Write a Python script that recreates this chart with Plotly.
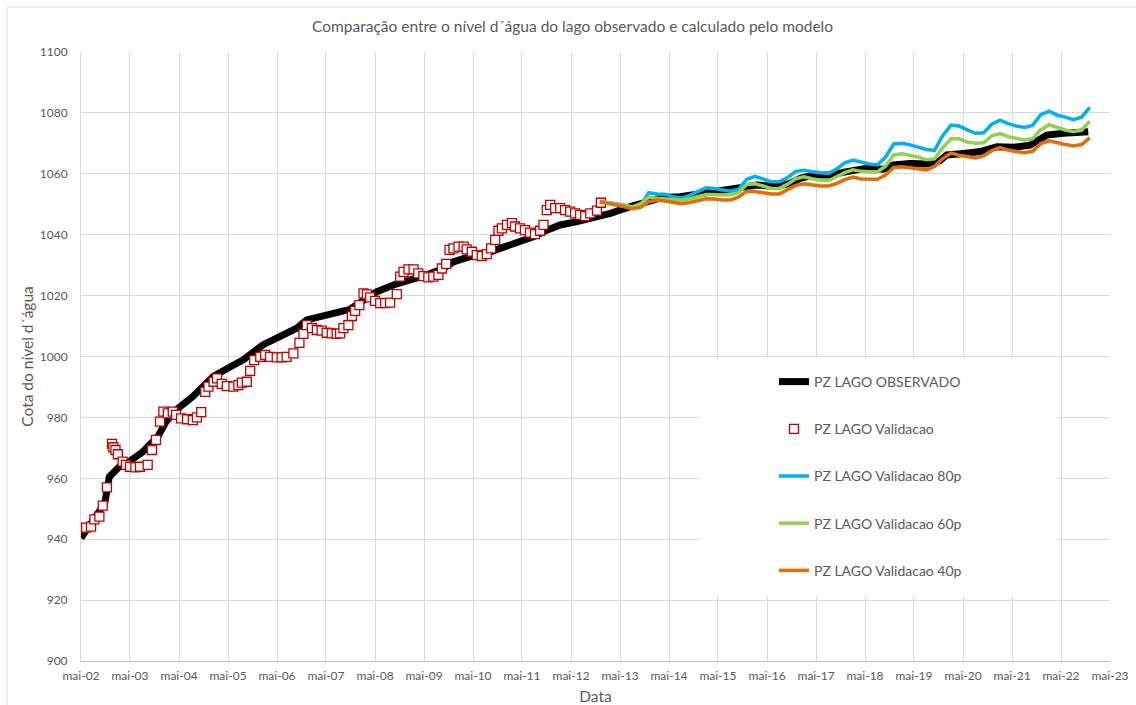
import pandas as pd
import plotly.graph_objects as go

# ---- observed lake level (PZ LAGO OBSERVADO) ----
obs_dates = [
    "2002-05-01", "2002-08-20", "2002-10-25", "2002-11-28", "2003-02-10", "2003-04-25",
    "2003-08-05", "2003-11-25", "2004-01-25", "2004-04-08", "2004-08-10", "2005-01-12",
    "2005-08-25", "2006-01-15", "2006-05-20", "2006-09-25", "2006-12-08", "2007-03-18",
    "2007-07-20", "2007-10-27", "2008-02-03", "2008-05-15", "2008-09-15", "2009-01-18",
    "2009-05-22", "2009-09-24", "2009-12-06", "2010-04-08", "2010-08-12", "2010-11-18",
    "2011-03-24", "2011-07-25", "2011-11-03", "2012-02-10", "2012-06-14", "2012-10-15",
    "2013-02-18", "2013-07-16", "2013-12-12", "2014-03-20", "2014-07-24", "2014-12-20",
    "2015-04-22", "2015-07-30", "2015-12-01", "2016-02-15", "2016-07-13", "2016-10-20",
    "2017-01-04", "2017-04-12", "2017-08-14", "2017-12-17", "2018-03-25", "2018-05-15",
    "2018-09-15", "2018-11-28", "2019-04-01", "2019-08-28", "2019-11-10", "2020-01-01",
    "2020-05-05", "2020-09-05", "2021-01-08", "2021-05-12", "2021-09-12", "2022-01-15",
    "2022-05-18", "2022-08-25", "2022-11-20",
]
obs_level = [
    940.4, 947.3, 951.8, 960.5, 963.8, 965.5,
    968.7, 973.7, 978.6, 982.4, 986.8, 993.5,
    999.0, 1003.8, 1006.5, 1009.3, 1012.0, 1013.3,
    1014.4, 1015.5, 1018.6, 1021.3, 1023.5, 1025.1,
    1026.8, 1028.9, 1031.1, 1032.8, 1033.9, 1035.5,
    1037.2, 1039.3, 1041.5, 1043.2, 1044.3, 1045.4,
    1047.0, 1049.2, 1051.4, 1052.3, 1052.5, 1053.4,
    1054.1, 1054.5, 1055.8, 1056.3, 1055.8, 1056.9,
    1058.5, 1059.6, 1059.6, 1060.7, 1061.5, 1061.8,
    1061.5, 1062.9, 1063.4, 1063.2, 1064.3, 1066.2,
    1066.7, 1067.3, 1068.9, 1068.7, 1069.4, 1072.7,
    1073.3, 1073.5, 1073.8,
]

# ---- model validation run (PZ LAGO Validacao) ----
val_dates = [
    "2002-05-01", "2002-06-08", "2002-07-15", "2002-08-09", "2002-09-15", "2002-10-10",
    "2002-11-10", "2002-12-18", "2002-12-28", "2003-01-13", "2003-01-31", "2003-03-07",
    "2003-04-01", "2003-05-01", "2003-06-10", "2003-07-15", "2003-09-10", "2003-10-12",
    "2003-11-11", "2003-12-11", "2004-01-05", "2004-02-07", "2004-03-15", "2004-04-09",
    "2004-05-16", "2004-06-30", "2004-08-12", "2004-09-11", "2004-10-13", "2004-11-12",
    "2004-12-06", "2005-01-13", "2005-02-08", "2005-03-15", "2005-04-22", "2005-06-10",
    "2005-07-17", "2005-08-12", "2005-09-18", "2005-10-13", "2005-11-12", "2005-12-27",
    "2006-02-02", "2006-03-10", "2006-04-29", "2006-06-05", "2006-07-12", "2006-08-31",
    "2006-10-15", "2006-11-14", "2006-12-09", "2007-01-16", "2007-02-22", "2007-03-30",
    "2007-05-06", "2007-06-13", "2007-07-20", "2007-08-14", "2007-09-08", "2007-10-15",
    "2007-11-10", "2007-12-04", "2008-01-05", "2008-02-05", "2008-03-01", "2008-03-25",
    "2008-05-01", "2008-06-08", "2008-07-15", "2008-08-21", "2008-10-10", "2008-11-04",
    "2008-11-29", "2009-01-05", "2009-02-12", "2009-03-19", "2009-04-26", "2009-06-02",
    "2009-07-09", "2009-08-16", "2009-09-11", "2009-10-13", "2009-11-07", "2009-12-06",
    "2010-01-13", "2010-02-20", "2010-03-15", "2010-04-22", "2010-05-29", "2010-07-05",
    "2010-08-12", "2010-09-13", "2010-10-13", "2010-11-07", "2010-12-02", "2011-01-09",
    "2011-02-15", "2011-03-10", "2011-04-16", "2011-05-23", "2011-06-30", "2011-08-06",
    "2011-09-13", "2011-10-08", "2011-11-02", "2011-11-27", "2012-01-03", "2012-02-10",
    "2012-03-17", "2012-04-24", "2012-05-31", "2012-07-07", "2012-08-14", "2012-09-21",
    "2012-11-10", "2012-12-09",
]
val_level = [
    943.6, 943.8, 944.1, 946.5, 947.4, 951.0,
    957.0, 971.3, 970.2, 969.3, 967.9, 965.5,
    964.4, 963.8, 963.6, 963.8, 964.4, 969.3,
    972.6, 978.6, 981.9, 981.3, 981.9, 980.8,
    979.7, 979.4, 979.1, 980.0, 981.7, 988.4,
    990.1, 991.7, 992.8, 991.0, 990.3, 990.1,
    990.6, 991.4, 991.7, 995.3, 998.8, 999.9,
    1000.5, 999.9, 999.7, 999.7, 999.9, 1001.0,
    1004.5, 1007.4, 1010.3, 1009.3, 1008.7, 1008.5,
    1007.8, 1007.6, 1007.4, 1007.6, 1009.3, 1010.3,
    1013.3, 1015.0, 1016.9, 1020.7, 1020.4, 1019.4,
    1018.3, 1017.5, 1017.5, 1017.7, 1020.5, 1026.2,
    1027.8, 1028.6, 1028.6, 1027.3, 1026.4, 1026.0,
    1026.2, 1026.8, 1028.9, 1030.4, 1035.0, 1035.5,
    1036.1, 1036.1, 1035.2, 1034.4, 1033.3, 1033.0,
    1033.6, 1035.5, 1038.3, 1041.3, 1042.1, 1043.2,
    1043.8, 1042.7, 1042.1, 1041.5, 1040.7, 1040.2,
    1041.3, 1043.2, 1048.1, 1049.8, 1048.7, 1048.7,
    1048.1, 1047.6, 1047.0, 1046.5, 1046.1, 1047.0,
    1047.9, 1050.5,
]

# ---- forecast scenarios, bimonthly from Dec/2012 to Dec/2022 ----
scen_dates = pd.date_range("2012-12-01", periods=61, freq="2MS")
level_80p = [
    1050.8, 1050.6, 1050.2, 1049.8, 1049.1, 1049.6,
    1053.8, 1053.4, 1053.3, 1052.5, 1052.1, 1052.9,
    1054.2, 1055.4, 1055.2, 1054.8, 1054.3, 1054.9,
    1058.2, 1059.2, 1058.3, 1057.4, 1057.4, 1058.8,
    1060.8, 1061.2, 1060.7, 1060.3, 1060.1, 1061.6,
    1063.6, 1064.5, 1063.8, 1063.2, 1062.9, 1065.5,
    1069.8, 1070.0, 1069.5, 1068.8, 1068.0, 1067.7,
    1072.5, 1076.0, 1075.7, 1074.4, 1073.3, 1073.5,
    1076.3, 1077.6, 1076.5, 1075.7, 1075.2, 1075.9,
    1079.4, 1080.6, 1079.3, 1078.6, 1077.8, 1078.6,
    1081.8,
]
level_60p = [
    1050.8, 1050.6, 1050.1, 1049.6, 1049.1, 1050.2,
    1052.3, 1052.0, 1051.7, 1051.4, 1051.3, 1051.8,
    1052.6, 1053.2, 1053.2, 1053.0, 1053.1, 1053.8,
    1056.5, 1056.7, 1056.0, 1055.2, 1055.2, 1056.6,
    1058.4, 1059.0, 1058.4, 1057.9, 1057.7, 1058.9,
    1060.4, 1061.3, 1060.8, 1060.7, 1060.7, 1062.5,
    1066.2, 1066.6, 1066.2, 1065.5, 1064.6, 1064.9,
    1068.5, 1071.5, 1071.5, 1070.4, 1070.0, 1070.2,
    1072.5, 1073.2, 1072.2, 1071.6, 1071.1, 1071.5,
    1074.5, 1076.1, 1075.3, 1074.4, 1073.9, 1074.3,
    1077.3,
]
level_40p = [
    1050.8, 1050.3, 1049.8, 1049.2, 1048.5, 1049.0,
    1050.8, 1051.4, 1051.1, 1050.7, 1050.2, 1050.6,
    1051.1, 1051.8, 1051.7, 1051.4, 1051.4, 1052.3,
    1054.3, 1054.2, 1053.8, 1053.4, 1053.4, 1054.8,
    1056.2, 1056.7, 1056.4, 1056.0, 1056.0, 1056.8,
    1058.1, 1058.9, 1058.3, 1058.2, 1058.2, 1059.6,
    1062.1, 1062.3, 1062.0, 1061.6, 1061.3, 1062.4,
    1065.0, 1066.8, 1066.1, 1065.7, 1065.2, 1065.9,
    1067.6, 1068.6, 1067.8, 1067.3, 1066.9, 1067.4,
    1069.9, 1070.8, 1070.1, 1069.6, 1069.1, 1069.6,
    1071.8,
]

# ---- x axis ticks (every May) ----
tick_dates = [f"{y}-05-01" for y in range(2002, 2024)]
tick_labels = [f"mai-{y % 100:02d}" for y in range(2002, 2024)]

FONT = "Lato, 'Open Sans', sans-serif"
GREY = "#595959"
GRID = "#D9D9D9"

fig = go.Figure()

fig.add_trace(go.Scatter(
    x=obs_dates, y=obs_level, mode="lines", name="PZ LAGO OBSERVADO",
    line=dict(color="#000000", width=7), legendgroup="a",
))
fig.add_trace(go.Scatter(
    x=val_dates, y=val_level, mode="markers", name="PZ LAGO Validacao",
    marker=dict(symbol="square", size=9, color="#FFFFFF",
                line=dict(color="#C00000", width=1.3)),
    legendgroup="b",
))
fig.add_trace(go.Scatter(
    x=scen_dates, y=level_80p, mode="lines", name="PZ LAGO Validacao 80p",
    line=dict(color="#00B0F0", width=3.5), legendgroup="c",
))
fig.add_trace(go.Scatter(
    x=scen_dates, y=level_60p, mode="lines", name="PZ LAGO Validacao 60p",
    line=dict(color="#92D050", width=3.5), legendgroup="d",
))
fig.add_trace(go.Scatter(
    x=scen_dates, y=level_40p, mode="lines", name="PZ LAGO Validacao 40p",
    line=dict(color="#E46C0A", width=3.5), legendgroup="e",
))

fig.update_layout(
    width=1136, height=705,
    margin=dict(l=81, r=26, t=52, b=44, autoexpand=False),
    paper_bgcolor="#FFFFFF", plot_bgcolor="#FFFFFF",
    font=dict(family=FONT, size=12, color=GREY),
    title=dict(
        text="Comparação entre o nível d´água do lago observado e calculado pelo modelo",
        x=0.504, xanchor="center", y=1 - 27 / 705, yanchor="middle",
        font=dict(family=FONT, size=15.5, color=GREY),
    ),
    showlegend=True,
    legend=dict(
        x=(774 - 81) / 1029, y=(661 - 366) / 609, xanchor="left", yanchor="top",
        bgcolor="rgba(0,0,0,0)", font=dict(family=FONT, size=14, color=GREY),
        tracegroupgap=26, traceorder="grouped",
    ),
    shapes=[
        # legend panel
        dict(type="rect", xref="paper", yref="paper",
             x0=(700 - 81) / 1029, x1=(1058 - 81) / 1029,
             y0=(661 - 596) / 609, y1=(661 - 358) / 609,
             fillcolor="#FFFFFF", line=dict(width=0), layer="above"),
        # chart frame
        dict(type="rect", xref="paper", yref="paper",
             x0=(7 - 81) / 1029, x1=(1145 - 81) / 1029,
             y0=(661 - 715) / 609, y1=(661 - 7) / 609,
             fillcolor="rgba(0,0,0,0)", line=dict(color=GRID, width=1), layer="above"),
    ],
)

fig.update_xaxes(
    type="date", range=["2002-05-01", "2023-05-01"],
    tickmode="array", tickvals=tick_dates, ticktext=tick_labels,
    showgrid=True, gridcolor=GRID, gridwidth=1,
    showline=True, linecolor="#BFBFBF", linewidth=1,
    ticks="", tickfont=dict(size=12, color=GREY), ticklabelstandoff=4,
    zeroline=False, automargin=False,
    title=dict(text="Data", standoff=8, font=dict(size=15.5, color=GREY)),
)
fig.update_yaxes(
    range=[900, 1100], dtick=20, tick0=900,
    showgrid=True, gridcolor=GRID, gridwidth=1,
    showline=True, linecolor=GRID, linewidth=1,
    ticks="", tickfont=dict(size=12, color=GREY), ticklabelstandoff=10,
    zeroline=False, automargin=False,
    title=dict(text="Cota do nível d´água", standoff=2, font=dict(size=15.5, color=GREY)),
)

fig.write_html("out.html")
